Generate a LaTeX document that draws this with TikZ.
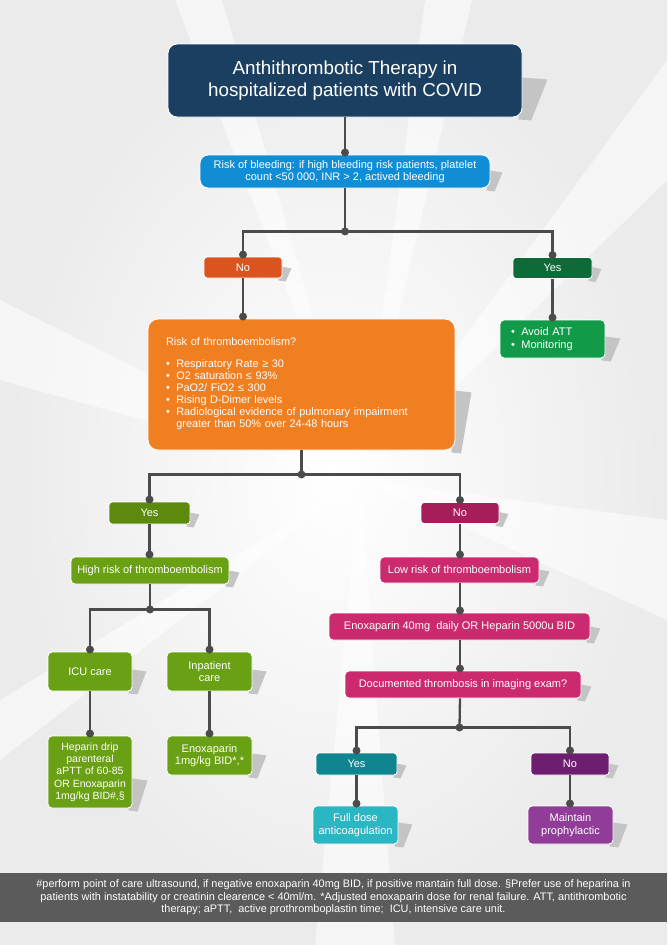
\documentclass[tikz,border=0pt]{standalone}
\usepackage{fontspec}
\setmainfont{Liberation Sans}
\usetikzlibrary{calc}
\pgfdeclarelayer{bg}
\pgfsetlayers{bg,main}
\definecolor{titlec}{HTML}{1B3F60}
\definecolor{bleedc}{HTML}{118DD6}
\definecolor{noac}{HTML}{D9541E}
\definecolor{yesac}{HTML}{0E6B37}
\definecolor{riskc}{HTML}{F07F22}
\definecolor{avoidc}{HTML}{119B48}
\definecolor{yesbc}{HTML}{5B8A0E}
\definecolor{greenc}{HTML}{69A014}
\definecolor{nobc}{HTML}{A51E5A}
\definecolor{pinkc}{HTML}{CC2A6E}
\definecolor{yescc}{HTML}{0F8590}
\definecolor{nocc}{HTML}{6E1E70}
\definecolor{fullc}{HTML}{2BB6C3}
\definecolor{maintc}{HTML}{913C98}
\definecolor{footc}{HTML}{5B5B5B}
\definecolor{linec}{HTML}{4B4B4B}
\definecolor{shadc}{HTML}{C4C4C4}
\newcommand\boxshadow[3]{%
  \fill[shadc] ($(#1.south east)+(-1,-#3)$) -- ($(#1.south east)+(#2,-#3+2)$)
    -- ($(#1.south east)+(0.35*#2,3)$) -- ($(#1.south east)+(-4,2)$) -- cycle;}
\begin{document}
\begin{tikzpicture}[x=1pt,y=-1pt,
  box/.style={draw=white, line width=0.9pt, rounded corners=4pt, text=white,
    align=center, inner sep=2pt, font=\fontsize{10.5}{12.3}\selectfont},
  big/.style={font=\fontsize{11}{12.5}\selectfont},
  conn/.style={draw=linec, line width=2.3pt},
  jdot/.style={circle, fill=linec, inner sep=0pt, minimum size=8pt},
  cdot/.style={circle, fill=linec, inner sep=0pt, minimum size=8pt, yshift=2pt},
  sz/.style 2 args={minimum width=#1pt, minimum height=#2pt}]
\useasboundingbox (0,0) rectangle (667,945);

% nodes
\node[box, fill=titlec, sz={354}{73}, rounded corners=9pt,
  font=\fontsize{18.8}{21.5}\selectfont] (title) at (345,80.5)
  {Anthithrombotic Therapy in\\hospitalized patients with COVID};
\node[box, fill=bleedc, sz={290}{33}, rounded corners=8pt,
  font=\fontsize{11}{11.8}\selectfont] (bleed) at (345,171.5)
  {Risk of bleeding: if high bleeding risk patients, platelet\\count <50 000, INR > 2, actived bleeding};
\node[box, big, fill=noac, sz={78}{21}, rounded corners=3pt] (no1) at (243,267.5) {No};
\node[box, big, fill=yesac, sz={79}{21}, rounded corners=3pt] (yes1) at (552.5,268) {Yes};
\node[box, fill=riskc, sz={307}{131}, rounded corners=10pt, align=left,
  text width=271pt, font=\fontsize{10.9}{12}\selectfont] (risk) at (301.5,384.5)
  {Risk of thromboembolism?\\[12pt]
   \begin{tabular}{@{}l@{\hspace{6.5pt}}l@{}}
   \textbullet & Respiratory Rate ≥ 30\\
   \textbullet & O2 saturation ≤ 93\%\\
   \textbullet & PaO2/ FiO2 ≤ 300\\
   \textbullet & Rising D-Dimer levels\\
   \textbullet & Radiological evidence of pulmonary impairment\\
    & greater than 50\% over 24-48 hours
   \end{tabular}};
\node[box, fill=avoidc, sz={105}{38}, rounded corners=4pt, align=left,
  text width=83pt, font=\fontsize{11}{13}\selectfont] (avoid) at (552.5,339)
  {\begin{tabular}{@{}l@{\hspace{6.5pt}}l@{}}
   \textbullet & Avoid ATT\\
   \textbullet & Monitoring
   \end{tabular}};
\node[box, big, fill=yesbc, sz={81}{22}, rounded corners=3pt] (yes2) at (149.5,513) {Yes};
\node[box, big, fill=nobc, sz={78}{21}, rounded corners=3pt] (no2) at (460,513) {No};
\node[box, big, fill=greenc, sz={158}{27}] (high) at (150,570.5) {High risk of thromboembolism};
\node[box, big, fill=pinkc, sz={159}{26}] (low) at (459.5,570) {Low risk of thromboembolism};
\node[box, big, fill=pinkc, sz={261}{27}] (enox40) at (459.5,626.5) {Enoxaparin 40mg\ \ daily OR Heparin 5000u BID};
\node[box, big, fill=pinkc, sz={236}{27}] (doc) at (463,684.5) {Documented thrombosis in imaging exam?};
\node[box, big, fill=greenc, sz={84}{39}] (icu) at (90,671.5) {ICU care};
\node[box, big, fill=greenc, sz={85}{39}] (inpat) at (209.5,671.5) {Inpatient\\care};
\node[box, fill=greenc, sz={84}{72}] (hep) at (90,772)
  {Heparin drip\\parenteral\\aPTT of 60-85\\OR Enoxaparin\\1mg/kg BID\#,§};
\node[box, big, fill=greenc, sz={85}{39}] (enox1) at (209.5,755.5) {Enoxaparin\\1mg/kg BID*,*};
\node[box, big, fill=yescc, sz={81}{22}, rounded corners=3pt] (yes3) at (356.5,764) {Yes};
\node[box, big, fill=nocc, sz={78}{22}, rounded corners=3pt] (no3) at (570,764) {No};
\node[box, big, fill=fullc, sz={85}{38}] (full) at (355.5,825) {Full dose\\anticoagulation};
\node[box, big, fill=maintc, sz={85}{38}] (maint) at (570.5,825) {Maintain\\prophylactic};
\node[fill=footc, minimum width=667pt, minimum height=49pt, text=white, align=center,
  inner sep=0pt, font=\fontsize{10.9}{12.5}\selectfont] (foot) at (333.5,897.5)
  {\#perform point of care ultrasound, if negative enoxaparin 40mg BID, if positive mantain full dose. §Prefer use of heparina in\\
   patients with instatability or creatinin clearence < 40ml/m. *Adjusted enoxaparin dose for renal failure. ATT, antithrombotic\\
   therapy; aPTT,\ \ active prothromboplastin time;\ \ ICU, intensive care unit.};

% junction coordinates
\path (bleed.south) ++(0,43) coordinate (j1);
\path (risk.south) ++(0,24) coordinate (j2);
\path (high.south) ++(0,25) coordinate (j3);
\path (doc.south -| enox40.south) ++(0,29) coordinate (j4);

% connectors
\draw[conn] (title.south) -- (bleed.north);
\draw[conn] (bleed.south) -- (j1);
\draw[conn] (no1.north) |- (j1) -| (yes1.north);
\draw[conn] (no1.south) -- (risk.north -| no1.south);
\draw[conn] (yes1.south) -- (avoid.north);
\draw[conn] (risk.south) -- (j2);
\draw[conn] (yes2.north) |- (j2) -| (no2.north);
\draw[conn] (yes2.south) -- (high.north -| yes2.south);
\draw[conn] (high.south) -- (j3);
\draw[conn] (icu.north) |- (j3) -| (inpat.north);
\draw[conn] (icu.south) -- (hep.north);
\draw[conn] (inpat.south) -- (enox1.north);
\draw[conn] (no2.south) -- (low.north -| no2.south);
\draw[conn] (low.south -| no2.south) -- (enox40.north -| no2.south);
\draw[conn] (enox40.south -| no2.south) -- (doc.north -| no2.south);
\draw[conn] (doc.south -| no2.south) -- (j4);
\draw[conn] (yes3.north) |- (j4) -| (no3.north);
\draw[conn] (yes3.south) -- (full.north -| yes3.south);
\draw[conn] (no3.south) -- (maint.north -| no3.south);

% dots
\node[jdot] (dj1) at (j1) {};
\node[jdot] (dj2) at (j2) {};
\node[jdot] (dj3) at (j3) {};
\node[jdot] (dj4) at (j4) {};
\node[cdot] (db) at (bleed.north) {};
\node[cdot] (dn1) at (no1.north) {};
\node[cdot] (dy1) at (yes1.north) {};
\node[cdot] (dr) at (risk.north -| no1.south) {};
\node[cdot] (da) at (avoid.north) {};
\node[cdot] (dy2) at (yes2.north) {};
\node[cdot] (dn2) at (no2.north) {};
\node[cdot] (dh) at (high.north -| yes2.south) {};
\node[cdot] (dl) at (low.north -| no2.south) {};
\node[cdot] (de) at (enox40.north -| no2.south) {};
\node[cdot] (dd) at (doc.north -| no2.south) {};
\node[cdot] (di) at (icu.north) {};
\node[cdot] (dp) at (inpat.north) {};
\node[cdot] (dhp) at (hep.north) {};
\node[cdot] (de1) at (enox1.north) {};
\node[cdot] (dy3) at (yes3.north) {};
\node[cdot] (dn3) at (no3.north) {};
\node[cdot] (df) at (full.north -| yes3.south) {};
\node[cdot] (dm) at (maint.north -| no3.south) {};

% background and shadows
\begin{pgfonlayer}{bg}
  \shade[inner color=white, outer color=gray!16] (0,0) rectangle (667,945);
  \begin{scope}[white, opacity=0.55]
    \fill (360,480) -- (175,0) -- (222,0) -- cycle;
    \fill (360,480) -- (425,0) -- (472,0) -- cycle;
    \fill (360,480) -- (667,60) -- (667,180) -- cycle;
    \fill (360,480) -- (667,520) -- (667,620) -- cycle;
    \fill (360,480) -- (315,945) -- (395,945) -- cycle;
    \fill (360,480) -- (0,300) -- (0,380) -- cycle;
    \fill (360,480) -- (0,700) -- (0,760) -- cycle;
  \end{scope}
  \boxshadow{title}{25}{40}
  \boxshadow{bleed}{12}{18}
  \boxshadow{no1}{9}{12}
  \boxshadow{yes1}{9}{12}
  \boxshadow{risk}{16}{60}
  \boxshadow{avoid}{15}{22}
  \boxshadow{yes2}{9}{12}
  \boxshadow{no2}{9}{12}
  \boxshadow{high}{10}{14}
  \boxshadow{low}{10}{14}
  \boxshadow{enox40}{10}{14}
  \boxshadow{doc}{10}{14}
  \boxshadow{icu}{14}{22}
  \boxshadow{inpat}{14}{22}
  \boxshadow{hep}{15}{30}
  \boxshadow{enox1}{14}{22}
  \boxshadow{yes3}{9}{12}
  \boxshadow{no3}{9}{12}
  \boxshadow{full}{14}{22}
  \boxshadow{maint}{14}{22}
\end{pgfonlayer}
\end{tikzpicture}
\end{document}
